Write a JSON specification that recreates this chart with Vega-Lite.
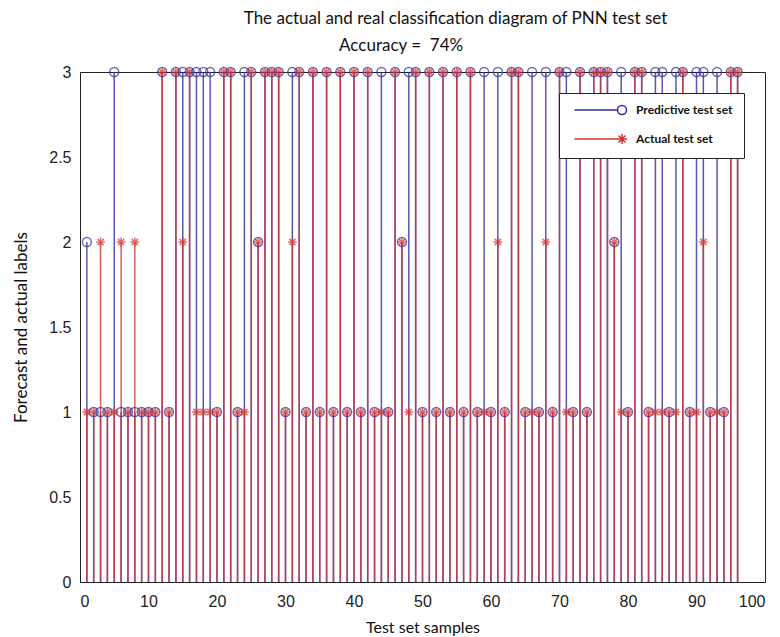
{
  "$schema": "https://vega.github.io/schema/vega-lite/v6.json",
  "autosize": {"type": "none"},
  "padding": {"left": 80, "top": 72, "right": 15, "bottom": 55},
  "width": 685,
  "height": 510,
  "background": "white",
  "title": {
    "text": "The actual and real classification diagram of PNN test set",
    "subtitle": "Accuracy =\u00a0 74%\u00a0\u00a0\u00a0\u00a0\u00a0\u00a0\u00a0\u00a0\u00a0\u00a0\u00a0\u00a0\u00a0\u00a0\u00a0\u00a0\u00a0\u00a0\u00a0\u00a0\u00a0\u00a0\u00a0\u00a0\u00a0\u200b",
    "font": "Lato",
    "fontSize": 17,
    "fontWeight": "normal",
    "color": "#111111",
    "subtitleFont": "Lato",
    "subtitleFontSize": 17,
    "subtitleColor": "#111111",
    "subtitlePadding": 10,
    "anchor": "middle",
    "dx": 33,
    "offset": 9
  },
  "data": {
    "values": [
      {"i":1,"Predictive test set":2,"Actual test set":1},
      {"i":2,"Predictive test set":1,"Actual test set":1},
      {"i":3,"Predictive test set":1,"Actual test set":2},
      {"i":4,"Predictive test set":1,"Actual test set":1},
      {"i":5,"Predictive test set":3,"Actual test set":1},
      {"i":6,"Predictive test set":1,"Actual test set":2},
      {"i":7,"Predictive test set":1,"Actual test set":1},
      {"i":8,"Predictive test set":1,"Actual test set":2},
      {"i":9,"Predictive test set":1,"Actual test set":1},
      {"i":10,"Predictive test set":1,"Actual test set":1},
      {"i":11,"Predictive test set":1,"Actual test set":1},
      {"i":12,"Predictive test set":3,"Actual test set":3},
      {"i":13,"Predictive test set":1,"Actual test set":1},
      {"i":14,"Predictive test set":3,"Actual test set":3},
      {"i":15,"Predictive test set":3,"Actual test set":2},
      {"i":16,"Predictive test set":3,"Actual test set":3},
      {"i":17,"Predictive test set":3,"Actual test set":1},
      {"i":18,"Predictive test set":3,"Actual test set":1},
      {"i":19,"Predictive test set":3,"Actual test set":1},
      {"i":20,"Predictive test set":1,"Actual test set":1},
      {"i":21,"Predictive test set":3,"Actual test set":3},
      {"i":22,"Predictive test set":3,"Actual test set":3},
      {"i":23,"Predictive test set":1,"Actual test set":1},
      {"i":24,"Predictive test set":3,"Actual test set":1},
      {"i":25,"Predictive test set":3,"Actual test set":3},
      {"i":26,"Predictive test set":2,"Actual test set":2},
      {"i":27,"Predictive test set":3,"Actual test set":3},
      {"i":28,"Predictive test set":3,"Actual test set":3},
      {"i":29,"Predictive test set":3,"Actual test set":3},
      {"i":30,"Predictive test set":1,"Actual test set":1},
      {"i":31,"Predictive test set":3,"Actual test set":2},
      {"i":32,"Predictive test set":3,"Actual test set":3},
      {"i":33,"Predictive test set":1,"Actual test set":1},
      {"i":34,"Predictive test set":3,"Actual test set":3},
      {"i":35,"Predictive test set":1,"Actual test set":1},
      {"i":36,"Predictive test set":3,"Actual test set":3},
      {"i":37,"Predictive test set":1,"Actual test set":1},
      {"i":38,"Predictive test set":3,"Actual test set":3},
      {"i":39,"Predictive test set":1,"Actual test set":1},
      {"i":40,"Predictive test set":3,"Actual test set":3},
      {"i":41,"Predictive test set":1,"Actual test set":1},
      {"i":42,"Predictive test set":3,"Actual test set":3},
      {"i":43,"Predictive test set":1,"Actual test set":1},
      {"i":44,"Predictive test set":3,"Actual test set":1},
      {"i":45,"Predictive test set":1,"Actual test set":1},
      {"i":46,"Predictive test set":3,"Actual test set":3},
      {"i":47,"Predictive test set":2,"Actual test set":2},
      {"i":48,"Predictive test set":3,"Actual test set":1},
      {"i":49,"Predictive test set":3,"Actual test set":3},
      {"i":50,"Predictive test set":1,"Actual test set":1},
      {"i":51,"Predictive test set":3,"Actual test set":3},
      {"i":52,"Predictive test set":1,"Actual test set":1},
      {"i":53,"Predictive test set":3,"Actual test set":3},
      {"i":54,"Predictive test set":1,"Actual test set":1},
      {"i":55,"Predictive test set":3,"Actual test set":3},
      {"i":56,"Predictive test set":1,"Actual test set":1},
      {"i":57,"Predictive test set":3,"Actual test set":3},
      {"i":58,"Predictive test set":1,"Actual test set":1},
      {"i":59,"Predictive test set":3,"Actual test set":1},
      {"i":60,"Predictive test set":1,"Actual test set":1},
      {"i":61,"Predictive test set":3,"Actual test set":2},
      {"i":62,"Predictive test set":1,"Actual test set":1},
      {"i":63,"Predictive test set":3,"Actual test set":3},
      {"i":64,"Predictive test set":3,"Actual test set":3},
      {"i":65,"Predictive test set":1,"Actual test set":1},
      {"i":66,"Predictive test set":3,"Actual test set":1},
      {"i":67,"Predictive test set":1,"Actual test set":1},
      {"i":68,"Predictive test set":3,"Actual test set":2},
      {"i":69,"Predictive test set":1,"Actual test set":1},
      {"i":70,"Predictive test set":3,"Actual test set":3},
      {"i":71,"Predictive test set":3,"Actual test set":1},
      {"i":72,"Predictive test set":1,"Actual test set":1},
      {"i":73,"Predictive test set":3,"Actual test set":3},
      {"i":74,"Predictive test set":1,"Actual test set":1},
      {"i":75,"Predictive test set":3,"Actual test set":3},
      {"i":76,"Predictive test set":3,"Actual test set":3},
      {"i":77,"Predictive test set":3,"Actual test set":3},
      {"i":78,"Predictive test set":2,"Actual test set":2},
      {"i":79,"Predictive test set":3,"Actual test set":1},
      {"i":80,"Predictive test set":1,"Actual test set":1},
      {"i":81,"Predictive test set":3,"Actual test set":3},
      {"i":82,"Predictive test set":3,"Actual test set":3},
      {"i":83,"Predictive test set":1,"Actual test set":1},
      {"i":84,"Predictive test set":3,"Actual test set":1},
      {"i":85,"Predictive test set":3,"Actual test set":1},
      {"i":86,"Predictive test set":1,"Actual test set":1},
      {"i":87,"Predictive test set":3,"Actual test set":1},
      {"i":88,"Predictive test set":3,"Actual test set":3},
      {"i":89,"Predictive test set":1,"Actual test set":1},
      {"i":90,"Predictive test set":3,"Actual test set":1},
      {"i":91,"Predictive test set":3,"Actual test set":2},
      {"i":92,"Predictive test set":1,"Actual test set":1},
      {"i":93,"Predictive test set":3,"Actual test set":1},
      {"i":94,"Predictive test set":1,"Actual test set":1},
      {"i":95,"Predictive test set":3,"Actual test set":3},
      {"i":96,"Predictive test set":3,"Actual test set":3}
    ]
  },
  "transform": [
    {"fold": ["Predictive test set", "Actual test set"], "as": ["series", "v"]}
  ],
  "encoding": {
    "x": {
      "field": "i", "type": "quantitative",
      "scale": {"domain": [0, 100], "nice": false},
      "axis": {
        "title": "Test set samples", "values": [0,10,20,30,40,50,60,70,80,90,100],
        "grid": false, "domainColor": "#222", "ticks": false,
        "labelFont": "Liberation Sans", "labelFontSize": 16, "labelColor": "#222", "labelPadding": 11,
        "titleFont": "Lato", "titleFontSize": 16, "titleFontWeight": "normal", "titleColor": "#111", "titlePadding": 10
      }
    },
    "y": {
      "field": "v", "type": "quantitative",
      "scale": {"domain": [0, 3], "nice": false},
      "axis": {
        "title": "Forecast and actual labels", "values": [0,0.5,1,1.5,2,2.5,3], "format": "~g",
        "grid": false, "domainColor": "#222", "ticks": false,
        "labelFont": "Liberation Sans", "labelFontSize": 16, "labelColor": "#222", "labelPadding": 9,
        "titleFont": "Lato", "titleFontSize": 17, "titleFontWeight": "normal", "titleColor": "#111", "titlePadding": 18
      }
    },
    "color": {
      "field": "series", "type": "nominal",
      "scale": {"domain": ["Predictive test set", "Actual test set"], "range": ["#2e2ea0", "#d43434"]},
      "legend": {
        "title": null, "orient": "top-right", "offset": 21,
        "strokeColor": "#222", "fillColor": "white", "padding": 11,
        "labelFont": "Lato", "labelFontSize": 12, "labelFontWeight": "bold", "labelColor": "#111",
        "labelOffset": 8, "symbolOffset": 46,
        "symbolSize": 100, "symbolStrokeWidth": 1.5, "symbolFillColor": "transparent", "symbolOpacity": 1, "rowPadding": 13
      }
    }
  },
  "layer": [
    {
      "mark": {"type": "rule", "strokeWidth": 1.5, "opacity": 0.8},
      "encoding": {
        "y2": {"datum": 0}
      }
    },
    {
      "mark": {"type": "point", "filled": false, "strokeWidth": 1.5, "size": 80},
      "encoding": {
        "shape": {
          "condition": {"test": "datum.series === 'Predictive test set'", "value": "circle"},
          "value": "M-1,0L1,0M0,-1L0,1M-0.7,-0.7L0.7,0.7M-0.7,0.7L0.7,-0.7"
        }
      }
    },
    {
      "mark": {"type": "point", "filled": false, "strokeWidth": 1.5, "size": 0, "opacity": 0},
      "encoding": {
        "shape": {
          "field": "series", "type": "nominal",
          "scale": {
            "domain": ["Predictive test set", "Actual test set"],
            "range": ["M0.9,0A0.9,0.9,0,1,1,-0.9,0A0.9,0.9,0,1,1,0.9,0M-0.9,0L-9.5,0", "M-9.5,0L0,0M-1,0L1,0M0,-1L0,1M-0.7,-0.7L0.7,0.7M-0.7,0.7L0.7,-0.7"]
          },
          "legend": {
            "title": null, "orient": "top-right", "offset": 21,
            "symbolSize": 100, "symbolOpacity": 1, "symbolOffset": 46, "labelOffset": 8
          }
        }
      }
    }
  ],
  "config": {"view": {"stroke": "#222", "strokeWidth": 1}}
}
